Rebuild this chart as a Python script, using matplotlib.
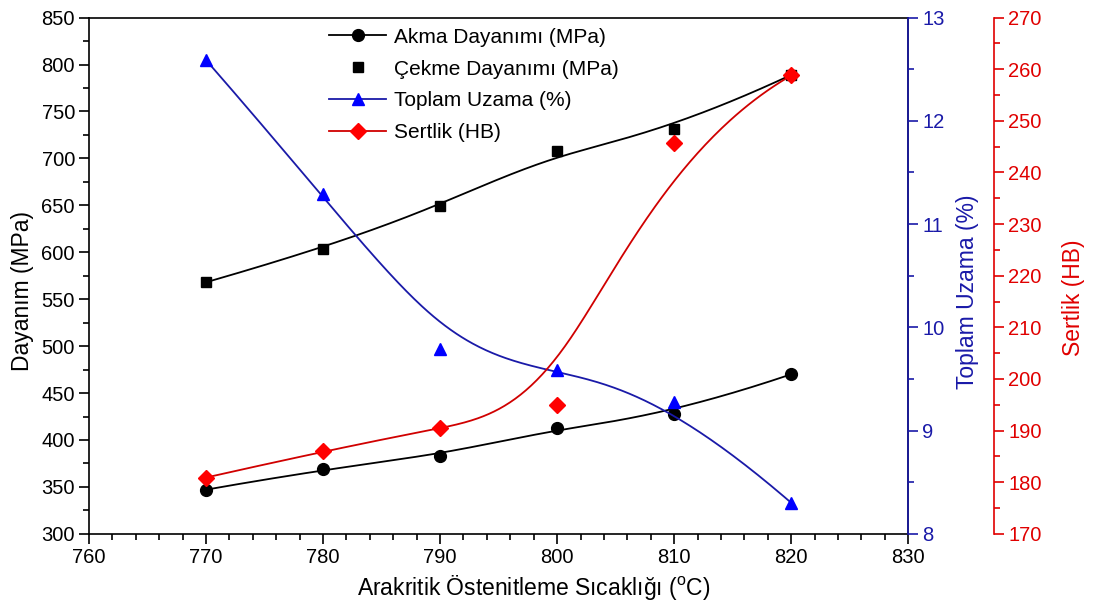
import numpy as np
import matplotlib.pyplot as plt
from matplotlib.ticker import MultipleLocator
from matplotlib.lines import Line2D

plt.rcParams.update({'font.size': 14.5, 'font.family': 'Liberation Sans', 'mathtext.default': 'regular'})

temp = [770, 780, 790, 800, 810, 820]  # arakritik ostenitleme sicakligi
akma = [347, 369, 383, 413, 428, 470]  # MPa
cekme = [568, 604, 649, 708, 731, 789]  # MPa
uzama = [12.59, 11.29, 9.79, 9.59, 9.28, 8.30]  # %
sertlik = [180.9, 186.0, 190.5, 194.9, 245.7, 258.8]  # HB

blue = '#0000ff'
blue_ax = '#1a1aa8'
red = '#ff0000'
red_ax = '#e00000'


def bspline(xs, ys, n=300, k=3):
    # clamped cubic B-spline using data points as control points (Origin style)
    P = np.column_stack([xs, ys]).astype(float)
    m = len(P)
    knots = np.concatenate([[0] * k, np.arange(m - k + 1), [m - k] * k]).astype(float)
    u = np.linspace(0, m - k, n)
    u[-1] -= 1e-9
    N = np.zeros((n, len(knots) - 1))
    for i in range(len(knots) - 1):
        N[:, i] = (knots[i] <= u) & (u < knots[i + 1])
    for d in range(1, k + 1):
        Nn = np.zeros((n, len(knots) - 1 - d))
        for i in range(len(knots) - 1 - d):
            a = knots[i + d] - knots[i]
            b = knots[i + d + 1] - knots[i + 1]
            t1 = (u - knots[i]) / a * N[:, i] if a > 0 else 0
            t2 = (knots[i + d + 1] - u) / b * N[:, i + 1] if b > 0 else 0
            Nn[:, i] = t1 + t2
        N = Nn
    C = N @ P
    return C[:, 0], C[:, 1]


fig = plt.figure(figsize=(10.97, 6.08), dpi=100)
ax = fig.add_axes([0.081, 0.122, 0.747, 0.849])
ax2 = ax.twinx()
ax3 = ax.twinx()
ax3.spines['right'].set_position(('axes', 1.105))

lw = 1.3

# main axis
bx, by = bspline(temp, akma)
ax.plot(bx, by, color='k', lw=lw)
ax.plot(temp, akma, 'o', color='k', ms=8.5)
bx, by = bspline(temp, cekme)
ax.plot(bx, by, color='k', lw=lw)
ax.plot(temp, cekme, 's', color='k', ms=7.5)

bx, by = bspline(temp, uzama)
ax2.plot(bx, by, color=blue_ax, lw=lw)
ax2.plot(temp, uzama, '^', color=blue, ms=9)

bx, by = bspline(temp, sertlik)
ax3.plot(bx, by, color='#d00000', lw=lw)
ax3.plot(temp, sertlik, 'D', color=red, ms=8)

ax.set_xlim(760, 830)
ax.set_ylim(300, 850)
ax2.set_ylim(8, 13)
ax3.set_ylim(170, 270)

ax.xaxis.set_major_locator(MultipleLocator(10))
ax.xaxis.set_minor_locator(MultipleLocator(2))
ax.yaxis.set_major_locator(MultipleLocator(50))
ax.yaxis.set_minor_locator(MultipleLocator(25))
ax2.yaxis.set_major_locator(MultipleLocator(1))
ax2.yaxis.set_minor_locator(MultipleLocator(0.5))
ax3.yaxis.set_major_locator(MultipleLocator(10))
ax3.yaxis.set_minor_locator(MultipleLocator(5))

for a in (ax, ax2, ax3):
    a.tick_params(which='major', direction='out', length=7, width=1.2, pad=3)
    a.tick_params(which='minor', direction='out', length=4, width=1.2)
    for s in a.spines.values():
        s.set_linewidth(1.2)

ax.tick_params(top=False, which='both')
ax.set_xlabel('Arakritik Östenitleme Sıcaklığı ($^{o}$C)', fontsize=16.5)
ax.xaxis.set_label_coords(0.543, -0.075)
ax.set_ylabel('Dayanım (MPa)', fontsize=16.5)
ax.yaxis.set_label_coords(-0.067, 0.471)

ax2.spines['right'].set_color(blue_ax)
ax2.tick_params(axis='y', which='both', colors=blue_ax)
ax2.set_ylabel('Toplam Uzama (%)', color=blue_ax, fontsize=16.5)
ax2.yaxis.set_label_coords(1.058, 0.469)

ax3.spines['right'].set_color(red_ax)
ax3.tick_params(axis='y', which='both', colors=red_ax)
ax3.set_ylabel('Sertlik (HB)', color=red_ax, fontsize=16.5)
ax3.yaxis.set_label_coords(1.188, 0.458)
for a in (ax2, ax3):
    a.spines['left'].set_visible(False)
    a.spines['top'].set_visible(False)
    a.spines['bottom'].set_visible(False)

handles = [
    Line2D([], [], color='k', lw=lw, marker='o', ms=8.5),
    Line2D([], [], color='k', lw=0, marker='s', ms=7.5),
    Line2D([], [], color=blue_ax, lw=lw, marker='^', ms=9, mfc=blue, mec=blue),
    Line2D([], [], color='#d00000', lw=lw, marker='D', ms=8, mfc=red, mec=red),
]
labels = ['Akma Dayanımı (MPa)', 'Çekme Dayanımı (MPa)', 'Toplam Uzama (%)', 'Sertlik (HB)']
ax3.legend(handles, labels, loc='upper left', bbox_to_anchor=(0.27, 1.017), frameon=False,
           handlelength=2.75, handletextpad=0.4, labelspacing=0.62, fontsize=15)

fig.savefig('out.png', dpi=100)
